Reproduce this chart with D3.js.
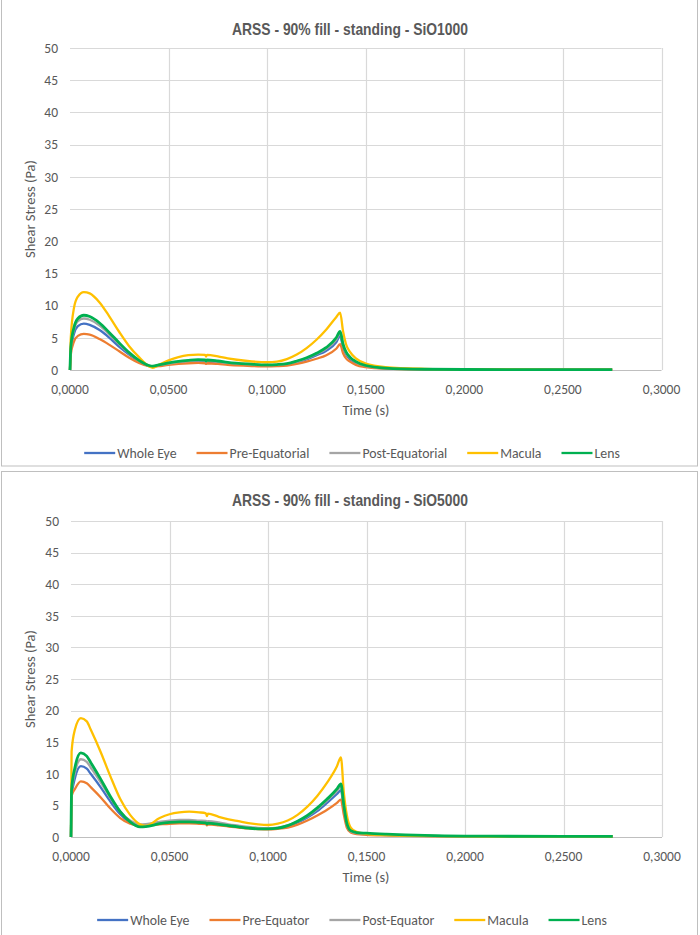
<!DOCTYPE html>
<html>
<head>
<meta charset="utf-8">
<script src="https://cdn.jsdelivr.net/npm/d3@7"></script>
<style>
  body { margin: 0; background: #fff; }
  svg text { fill: #595959; }
  .tick-label { font-family: Carlito, Calibri, 'Open Sans', sans-serif; font-size: 13.5px; }
  .axis-title { font-family: Carlito, Calibri, 'Open Sans', sans-serif; font-size: 14.5px; }
  .legend-label { font-family: Carlito, Calibri, 'Open Sans', sans-serif; font-size: 13.8px; }
  .chart-title { font-family: 'Liberation Sans Narrow', 'Arial Narrow', 'Liberation Sans', sans-serif; font-size: 16.5px; font-weight: bold; }
</style>
</head>
<body>
<div id="chart"></div>
<script>

/**
 * Data
 */

const seriesColors = ['#4472C4', '#ED7D31', '#A5A5A5', '#FFC000', '#00B050'];
const xTicks = [0, 0.05, 0.1, 0.15, 0.2, 0.25, 0.3];
const yTicks = [0, 5, 10, 15, 20, 25, 30, 35, 40, 45, 50];

// SiO1000
const names1000 = ['Whole Eye', 'Pre-Equatorial', 'Post-Equatorial', 'Macula', 'Lens'];
const time1000 = [0, 0.0004, 0.002, 0.004, 0.007, 0.010, 0.015, 0.020, 0.025, 0.030, 0.035, 0.040, 0.042, 0.045, 0.050, 0.055, 0.060, 0.065, 0.0685, 0.069, 0.0695, 0.075, 0.080, 0.090, 0.100, 0.105, 0.110, 0.115, 0.120, 0.125, 0.130, 0.135, 0.137, 0.1385, 0.140, 0.142, 0.145, 0.150, 0.160, 0.180, 0.200, 0.250, 0.275];
const wholeEye1000 = [0, 3.0, 5.6, 6.8, 7.2, 7.0, 6.2, 5.0, 3.6, 2.4, 1.3, 0.65, 0.55, 0.7, 0.95, 1.15, 1.3, 1.35, 1.3, 1.2, 1.3, 1.2, 1.0, 0.8, 0.7, 0.72, 0.85, 1.2, 1.65, 2.3, 3.0, 4.3, 5.3, 3.5, 2.4, 1.7, 1.1, 0.6, 0.25, 0.1, 0.06, 0.05, 0.05];
const preEq1000 = [0, 2.4, 4.4, 5.3, 5.6, 5.5, 4.8, 3.9, 2.9, 1.9, 1.1, 0.6, 0.5, 0.6, 0.8, 0.95, 1.05, 1.1, 1.05, 0.95, 1.05, 0.95, 0.8, 0.65, 0.55, 0.6, 0.7, 0.95, 1.3, 1.75, 2.3, 3.3, 4.0, 2.6, 1.8, 1.3, 0.8, 0.45, 0.2, 0.08, 0.05, 0.04, 0.04];
const postEq1000 = [0, 3.3, 6.2, 7.6, 8.0, 7.8, 6.9, 5.5, 4.0, 2.6, 1.45, 0.7, 0.6, 0.75, 1.0, 1.25, 1.4, 1.5, 1.45, 1.3, 1.45, 1.3, 1.1, 0.9, 0.75, 0.8, 0.95, 1.3, 1.8, 2.5, 3.3, 4.7, 5.7, 3.8, 2.6, 1.9, 1.2, 0.65, 0.28, 0.11, 0.07, 0.05, 0.05];
const macula1000 = [0, 5.0, 9.6, 11.4, 12.1, 11.9, 10.5, 8.3, 5.9, 3.7, 2.0, 0.6, 0.35, 0.8, 1.5, 2.0, 2.3, 2.4, 2.35, 2.1, 2.35, 2.1, 1.8, 1.4, 1.2, 1.3, 1.7, 2.4, 3.4, 4.7, 6.3, 8.2, 8.9, 6.0, 4.0, 2.8, 1.8, 1.0, 0.45, 0.18, 0.1, 0.06, 0.05];
const lens1000 = [0, 3.5, 6.6, 8.0, 8.5, 8.3, 7.3, 5.8, 4.2, 2.7, 1.5, 0.7, 0.6, 0.8, 1.1, 1.35, 1.5, 1.6, 1.55, 1.4, 1.55, 1.4, 1.2, 0.95, 0.8, 0.85, 1.0, 1.4, 1.9, 2.6, 3.5, 5.0, 6.0, 4.0, 2.8, 2.0, 1.3, 0.7, 0.3, 0.12, 0.08, 0.05, 0.05];

// SiO5000
const names5000 = ['Whole Eye', 'Pre-Equator', 'Post-Equator', 'Macula', 'Lens'];
const time5000 = [0, 0.0003, 0.002, 0.005, 0.008, 0.010, 0.015, 0.020, 0.025, 0.030, 0.035, 0.038, 0.045, 0.050, 0.055, 0.060, 0.065, 0.0685, 0.069, 0.0695, 0.075, 0.080, 0.085, 0.090, 0.095, 0.100, 0.105, 0.110, 0.115, 0.120, 0.125, 0.130, 0.135, 0.137, 0.1385, 0.140, 0.142, 0.145, 0.150, 0.160, 0.200, 0.250, 0.275];
const wholeEye5000 = [0, 6.5, 9.3, 11.2, 10.8, 10.0, 7.9, 5.6, 3.6, 2.3, 1.85, 1.9, 2.2, 2.4, 2.5, 2.5, 2.4, 2.35, 2.15, 2.3, 2.1, 1.85, 1.65, 1.45, 1.35, 1.3, 1.4, 1.7, 2.3, 3.1, 4.1, 5.4, 6.8, 7.4, 4.4, 1.9, 0.85, 0.55, 0.45, 0.3, 0.1, 0.07, 0.07];
const preEq5000 = [0, 6.5, 7.6, 8.8, 8.5, 7.9, 6.3, 4.5, 3.0, 2.1, 1.8, 1.85, 2.0, 2.1, 2.15, 2.15, 2.1, 2.05, 1.85, 2.0, 1.85, 1.65, 1.5, 1.35, 1.25, 1.2, 1.3, 1.5, 1.95, 2.6, 3.4, 4.3, 5.4, 5.9, 3.5, 1.5, 0.7, 0.45, 0.35, 0.25, 0.08, 0.05, 0.05];
const postEq5000 = [0, 7.0, 10.2, 12.3, 11.9, 11.0, 8.7, 6.2, 4.0, 2.6, 2.0, 2.05, 2.4, 2.6, 2.7, 2.7, 2.6, 2.55, 2.35, 2.5, 2.3, 2.0, 1.8, 1.6, 1.45, 1.4, 1.5, 1.85, 2.5, 3.3, 4.4, 5.8, 7.3, 8.0, 4.8, 2.1, 0.9, 0.6, 0.5, 0.35, 0.12, 0.08, 0.08];
const macula5000 = [0, 13.5, 17.0, 18.8, 18.3, 17.0, 13.5, 9.6, 6.0, 3.5, 2.0, 1.75, 3.0, 3.6, 3.9, 4.0, 3.9, 3.75, 3.3, 3.7, 3.2, 2.8, 2.5, 2.2, 2.0, 1.9, 2.1, 2.6, 3.5, 4.8, 6.5, 8.6, 11.2, 12.6, 7.0, 3.5, 1.5, 0.8, 0.5, 0.3, 0.1, 0.06, 0.05];
const lens5000 = [0, 7.5, 11.0, 13.3, 12.8, 11.8, 9.2, 6.4, 4.0, 2.4, 1.6, 1.65, 2.1, 2.3, 2.4, 2.4, 2.3, 2.25, 2.05, 2.2, 2.0, 1.8, 1.6, 1.4, 1.3, 1.3, 1.4, 1.8, 2.5, 3.4, 4.6, 6.0, 7.6, 8.4, 5.0, 2.2, 1.0, 0.7, 0.6, 0.45, 0.15, 0.1, 0.1];


/**
 * Drawing
 */

const width = 700;
const height = 935;

const svg = d3.select('#chart')
              .append('svg')
              .attr('width', width)
              .attr('height', height);

// panel frames
svg.append('rect').attr('x', 1.5).attr('y', -2).attr('width', 696).attr('height', 468)
   .attr('fill', 'none').attr('stroke', '#bfbfbf');
svg.append('rect').attr('x', 1.5).attr('y', 471.5).attr('width', 696).attr('height', 470)
   .attr('fill', 'none').attr('stroke', '#bfbfbf');

const fmtX = d => d3.format('.4f')(d).replace('.', ',');

function drawChart(opt) {
  const g = svg.append('g');

  const x = d3.scaleLinear().domain([0, 0.3]).range([opt.left, opt.right]);
  const y = d3.scaleLinear().domain([0, 50]).range([opt.bottom, opt.top]);

  // grid
  g.selectAll('.hgrid')
   .data(yTicks.filter(d => d > 0))
   .enter()
   .append('line')
   .attr('x1', opt.left).attr('x2', opt.right)
   .attr('y1', d => Math.round(y(d)) + 0.5).attr('y2', d => Math.round(y(d)) + 0.5)
   .attr('stroke', '#d9d9d9').attr('stroke-width', 1.2);

  g.selectAll('.vgrid')
   .data(xTicks.filter(d => d > 0))
   .enter()
   .append('line')
   .attr('x1', d => Math.round(x(d)) + 0.5).attr('x2', d => Math.round(x(d)) + 0.5)
   .attr('y1', opt.top).attr('y2', opt.bottom)
   .attr('stroke', '#d9d9d9').attr('stroke-width', 1.2);

  // axis line
  g.append('line')
   .attr('x1', opt.left).attr('x2', opt.right)
   .attr('y1', Math.round(y(0)) + 0.5).attr('y2', Math.round(y(0)) + 0.5)
   .attr('stroke', '#bfbfbf').attr('stroke-width', 1.2);

  // tick labels
  g.selectAll('.ylab')
   .data(yTicks)
   .enter()
   .append('text')
   .attr('class', 'tick-label')
   .attr('x', opt.left - 12)
   .attr('y', d => y(d))
   .attr('dy', '0.35em')
   .attr('text-anchor', 'end')
   .text(d => d);

  g.selectAll('.xlab')
   .data(xTicks)
   .enter()
   .append('text')
   .attr('class', 'tick-label')
   .attr('x', d => x(d))
   .attr('y', opt.bottom + 24)
   .attr('text-anchor', 'middle')
   .text(fmtX);

  // titles
  g.append('text')
   .attr('class', 'chart-title')
   .attr('x', 350)
   .attr('y', opt.titleY)
   .attr('text-anchor', 'middle')
   .attr('textLength', 236)
   .attr('lengthAdjust', 'spacingAndGlyphs')
   .text(opt.title);

  g.append('text')
   .attr('class', 'axis-title')
   .attr('x', 366)
   .attr('y', opt.bottom + 45)
   .attr('text-anchor', 'middle')
   .text('Time (s)');

  g.append('text')
   .attr('class', 'axis-title')
   .attr('transform', `translate(35,${(opt.top + opt.bottom) / 2}) rotate(-90)`)
   .attr('text-anchor', 'middle')
   .text('Shear Stress (Pa)');

  // series
  const line = d3.line()
                 .x((d, i) => x(opt.time[i]))
                 .y(d => y(d))
                 .curve(d3.curveMonotoneX);

  opt.series.forEach((values, i) => {
    g.append('path')
     .attr('d', line(values))
     .attr('fill', 'none')
     .attr('stroke', seriesColors[i])
     .attr('stroke-width', i === 4 ? 2.8 : 2.3)
     .attr('stroke-linejoin', 'round');
  });

  // legend
  const leg = g.append('g');
  let cx = 0;
  opt.names.forEach((name, i) => {
    const item = leg.append('g').attr('transform', `translate(${cx},0)`);
    item.append('line')
        .attr('x1', 0).attr('x2', 31)
        .attr('y1', 0).attr('y2', 0)
        .attr('stroke', seriesColors[i])
        .attr('stroke-width', 2.3);
    const t = item.append('text')
                  .attr('class', 'legend-label')
                  .attr('x', 33)
                  .attr('dy', '0.35em')
                  .text(name);
    cx += 33 + t.node().getComputedTextLength() + 20;
  });
  const legW = cx - 20;
  leg.attr('transform', `translate(${352 - legW / 2},${opt.legendY})`);
}

drawChart({
  title: 'ARSS - 90% fill - standing - SiO1000',
  left: 70, right: 661.5, top: 48, bottom: 370, titleY: 35, legendY: 453,
  names: names1000,
  time: time1000,
  series: [wholeEye1000, preEq1000, postEq1000, macula1000, lens1000],
});

drawChart({
  title: 'ARSS - 90% fill - standing - SiO5000',
  left: 71, right: 662, top: 521, bottom: 837, titleY: 506, legendY: 920,
  names: names5000,
  time: time5000,
  series: [wholeEye5000, preEq5000, postEq5000, macula5000, lens5000],
});

</script>
</body>
</html>
